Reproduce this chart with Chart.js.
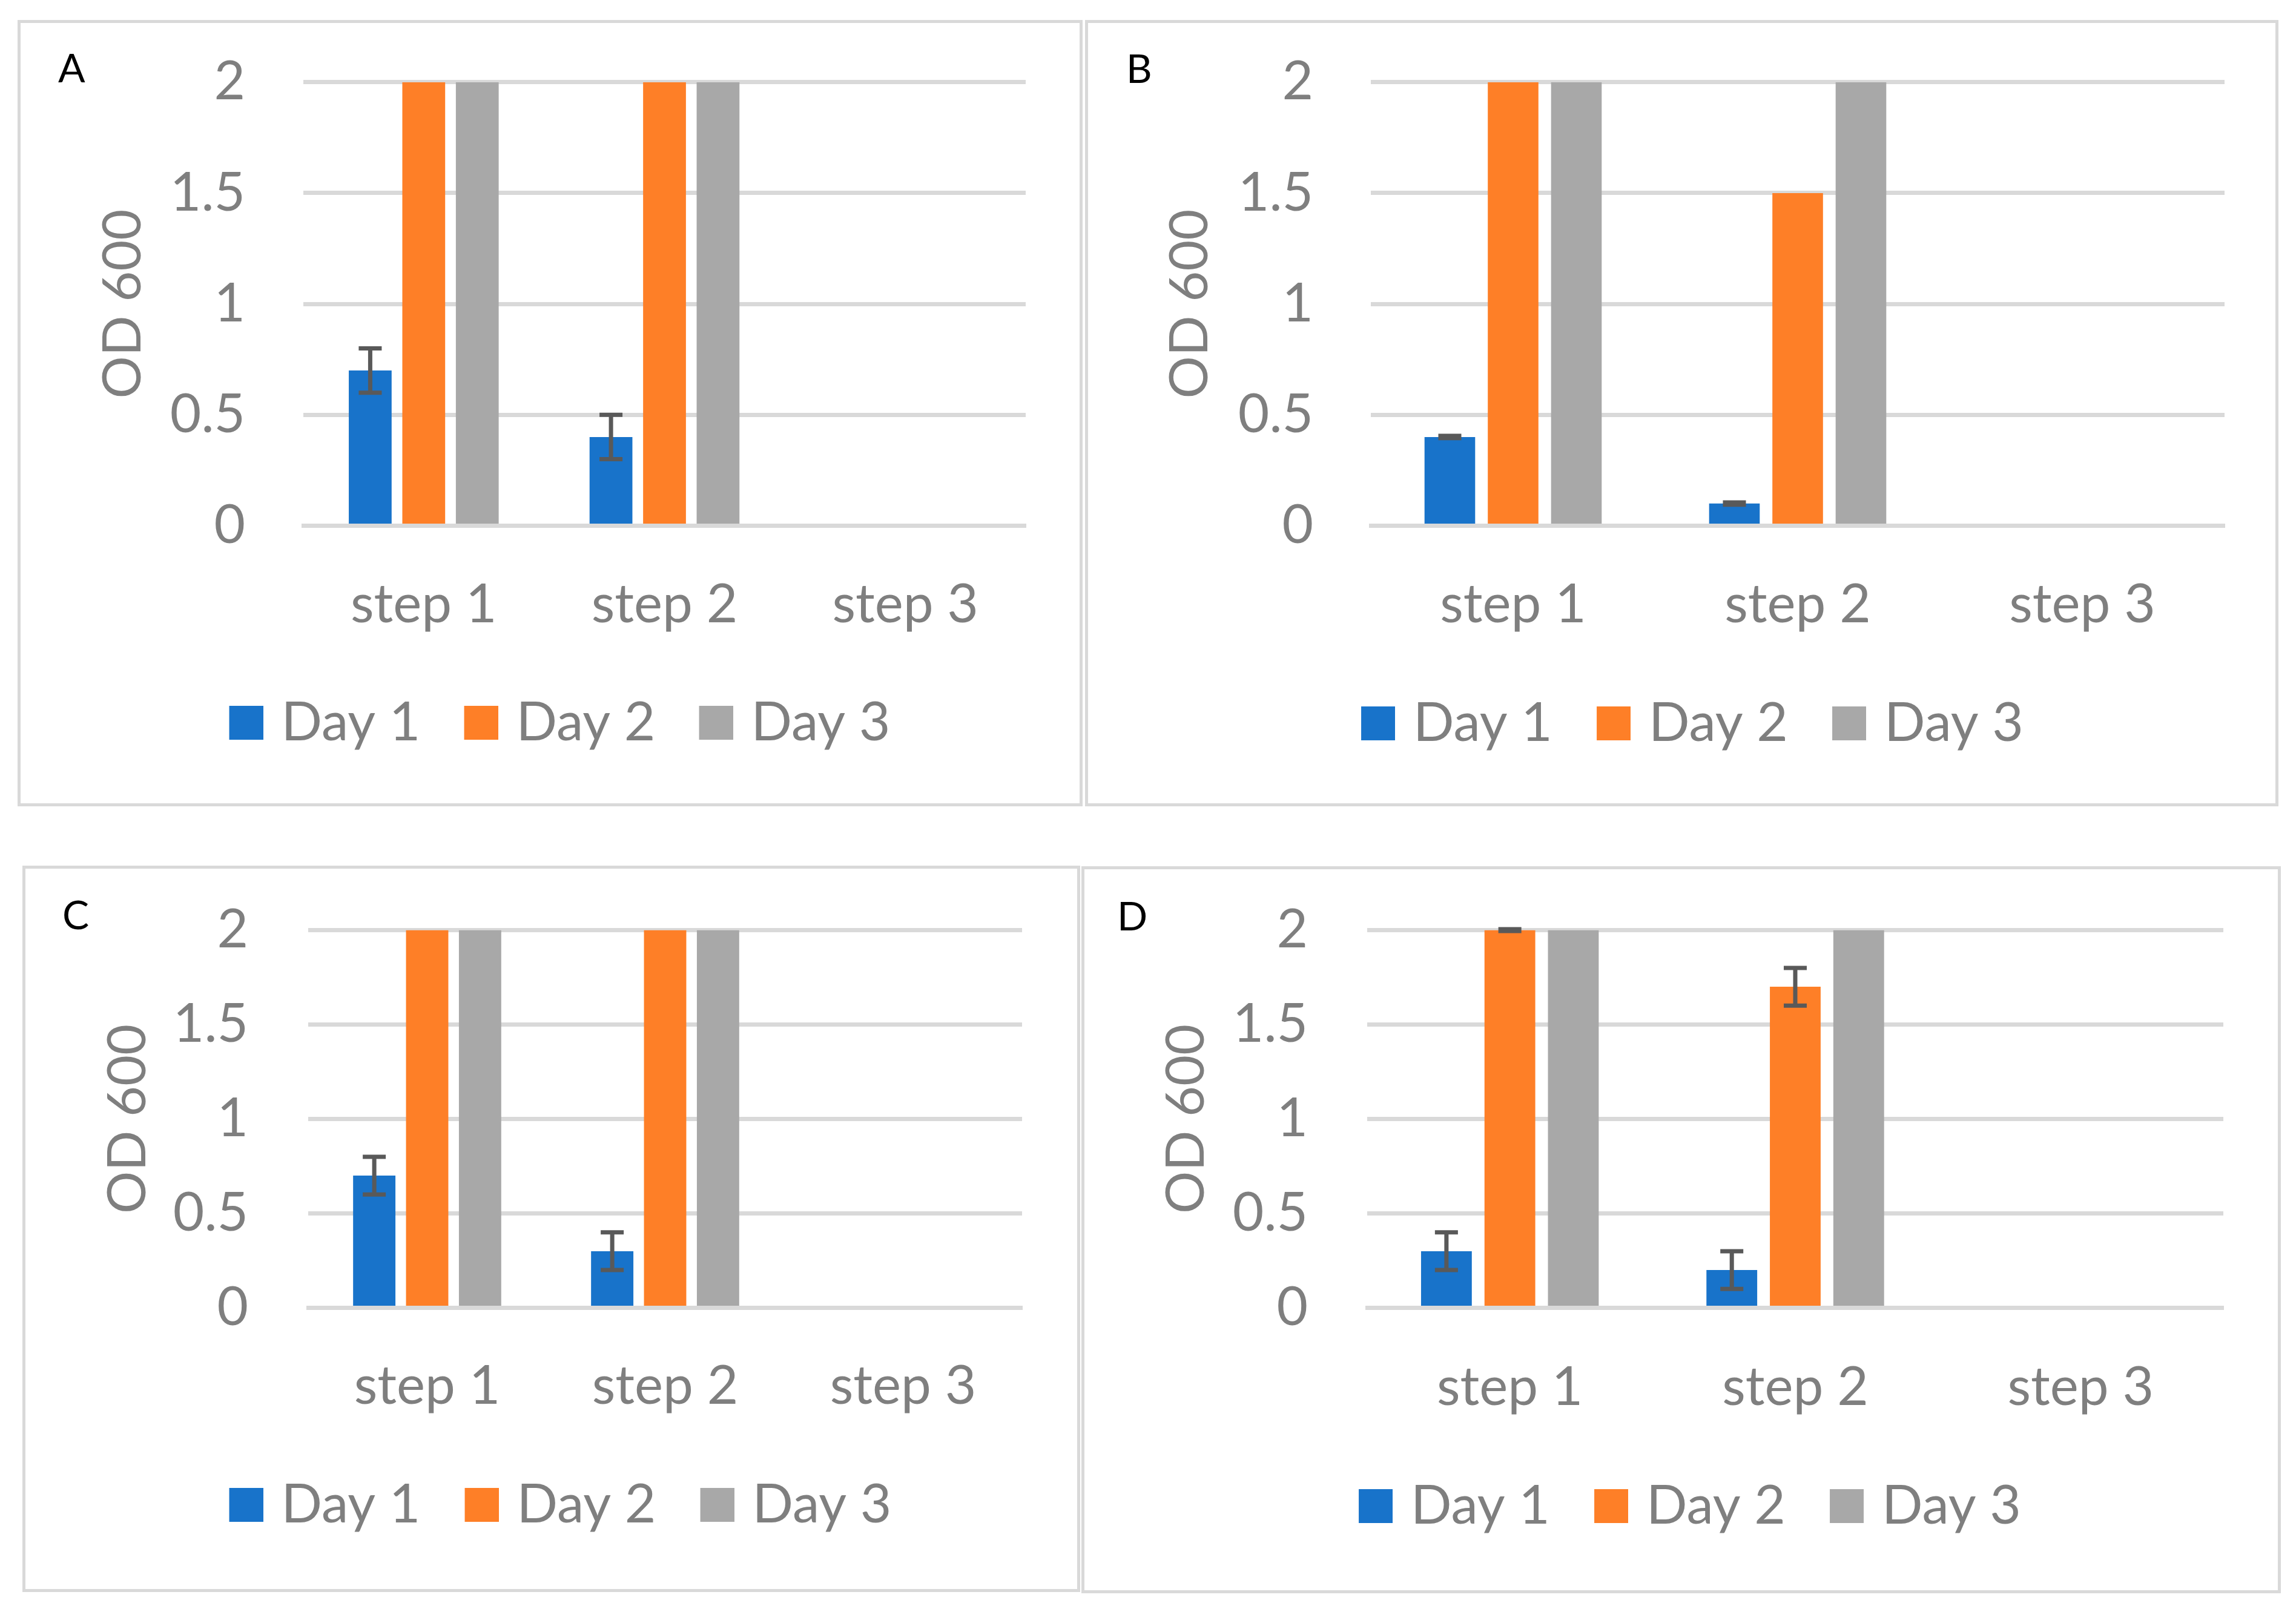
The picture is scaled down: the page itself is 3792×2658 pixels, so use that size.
<!DOCTYPE html>
<html>
<head>
<meta charset="utf-8">
<script src="https://cdn.jsdelivr.net/npm/chart.js@4.4.1/dist/chart.umd.min.js"></script>
<style>
  html, body { margin: 0; padding: 0; background: #ffffff; }
  body { width: 3792px; height: 2658px; position: relative; overflow: hidden; }
  .panel { position: absolute; box-sizing: border-box; border: 5px solid #d9d9d9; background: #ffffff; }
  .panel canvas { position: absolute; left: 0; top: 0; }
</style>
</head>
<body>
<script>
// ---------------- DATA ----------------
const categories   = ['step 1', 'step 2', 'step 3'];
const seriesNames  = ['Day 1', 'Day 2', 'Day 3'];
const yTicks       = [0, 0.5, 1, 1.5, 2];
const yTickLabels  = ['0', '0.5', '1', '1.5', '2'];
const yAxisTitle   = 'OD 600';
const panelLetters = ['A', 'B', 'C', 'D'];

// Panel A
const panelA_day1    = [0.7, 0.4, null];
const panelA_day1Err = [0.1, 0.1, null];
const panelA_day2    = [2, 2, null];
const panelA_day3    = [2, 2, null];
// Panel B
const panelB_day1    = [0.4, 0.1, null];
const panelB_day1Err = [0.005, 0.005, null];
const panelB_day2    = [2, 1.5, null];
const panelB_day3    = [2, 2, null];
// Panel C
const panelC_day1    = [0.7, 0.3, null];
const panelC_day1Err = [0.1, 0.1, null];
const panelC_day2    = [2, 2, null];
const panelC_day3    = [2, 2, null];
// Panel D
const panelD_day1    = [0.3, 0.2, null];
const panelD_day1Err = [0.1, 0.1, null];
const panelD_day2    = [2, 1.7, null];
const panelD_day2Err = [0.005, 0.1, null];
const panelD_day3    = [2, 2, null];

// ---------------- STYLE ----------------
const seriesColors = ['#1873ca', '#fe7f27', '#a8a8a8'];
const textColor = '#7f7f7f';
const gridColor = '#d9d9d9';
const errColor = '#595959';
const FONT_FAMILY = 'Lato, "Noto Sans", sans-serif';
const FS = 89;        // tick / legend font size
const TFS = 88;       // axis title font size
const LBOX = 56;      // legend box size
const LGAP = 30;      // gap between legend box and its text
const K_MID = 0.31;   // em-middle above baseline (fraction of font size)

// ---------------- LAYOUT (page pixels) ----------------
const layouts = [
  { box: [29, 33, 1788, 1332],   area: [501, 135.7, 1694, 868.5],   tickRight: 405,  titleX: 199.5, xLabelBase: 1027, legendCX: 924.5, legendBoxTop: 1166, legendStep: 388, letter: [96, 136] },
  { box: [1792, 33, 3763, 1332], area: [2264, 135.7, 3674, 868.5], tickRight: 2169, titleX: 1961,  xLabelBase: 1027, legendCX: 2795,  legendBoxTop: 1167, legendStep: 389, letter: [1860, 137] },
  { box: [37, 1430, 1784, 2630], area: [509, 1536.5, 1688, 2160.5], tickRight: 410,  titleX: 207,   xLabelBase: 2318, legendCX: 925.5, legendBoxTop: 2458, legendStep: 389, letter: [103, 1535] },
  { box: [1786, 1431, 3767, 2632], area: [2258, 1536.5, 3672, 2160.5], tickRight: 2160, titleX: 1955, xLabelBase: 2320, legendCX: 2791, legendBoxTop: 2460, legendStep: 389, letter: [1845, 1537] }
];

const panelSeries = [
  [ {data: panelA_day1, err: panelA_day1Err}, {data: panelA_day2, err: null}, {data: panelA_day3, err: null} ],
  [ {data: panelB_day1, err: panelB_day1Err}, {data: panelB_day2, err: null}, {data: panelB_day3, err: null} ],
  [ {data: panelC_day1, err: panelC_day1Err}, {data: panelC_day2, err: null}, {data: panelC_day3, err: null} ],
  [ {data: panelD_day1, err: panelD_day1Err}, {data: panelD_day2, err: panelD_day2Err}, {data: panelD_day3, err: null} ]
];

// ---------------- PLUGINS ----------------
const errorBarPlugin = {
  id: 'errorBars',
  afterDatasetsDraw(chart, args, opts) {
    const ctx = chart.ctx;
    const ys = chart.scales.y;
    chart.data.datasets.forEach((ds, di) => {
      if (!ds.errors) return;
      const meta = chart.getDatasetMeta(di);
      meta.data.forEach((bar, i) => {
        const v = ds.data[i], e = ds.errors[i];
        if (v == null || e == null) return;
        const x = bar.x;
        const yTop = ys.getPixelForValue(v + e);
        const yBot = ys.getPixelForValue(v - e);
        const half = opts.capWidth / 2;
        ctx.save();
        ctx.strokeStyle = opts.color;
        ctx.lineWidth = opts.lineWidth;
        ctx.lineCap = 'butt';
        ctx.beginPath();
        ctx.moveTo(x, yTop); ctx.lineTo(x, yBot);
        ctx.moveTo(x - half, yTop); ctx.lineTo(x + half, yTop);
        ctx.moveTo(x - half, yBot); ctx.lineTo(x + half, yBot);
        ctx.stroke();
        ctx.restore();
      });
    });
  }
};

const panelLetterPlugin = {
  id: 'panelLetter',
  afterDraw(chart, args, opts) {
    const ctx = chart.ctx;
    ctx.save();
    ctx.font = opts.size + 'px ' + FONT_FAMILY;
    ctx.fillStyle = '#000000';
    ctx.textAlign = 'left';
    ctx.textBaseline = 'alphabetic';
    ctx.fillText(opts.text, opts.x, opts.y);
    ctx.restore();
  }
};

// legend marker images: square placed so the gap to the text is LGAP
const SHIFT = FS / 2 - LGAP;
const legendMarkers = seriesColors.map((c) => {
  const cv = document.createElement('canvas');
  cv.width = Math.round(LBOX + 2 * SHIFT);
  cv.height = LBOX;
  const g = cv.getContext('2d');
  g.fillStyle = c;
  g.fillRect(cv.width - LBOX, 0, LBOX, LBOX);
  return cv;
});

// ---------------- BUILD ----------------
const measureCtx = document.createElement('canvas').getContext('2d');
function textWidth(str, size) {
  measureCtx.font = 'normal ' + size + 'px ' + FONT_FAMILY;
  return measureCtx.measureText(str).width;
}

function buildPanel(idx) {
  const lay = layouts[idx];
  const B = 5;
  const [x0, y0, x1, y1] = lay.box;
  const cl = x0 + B, ct = y0 + B, cw = x1 - x0 - 2 * B, ch = y1 - y0 - 2 * B;
  const [aL, aT, aR, aB] = lay.area;

  const padR = cl + cw - aR;
  const padL = Math.max(0, 2 * (lay.legendCX - SHIFT / 2 - (cl + cw / 2)) + padR);
  const yW = aL - cl - padL;
  const padT = aT - ct;

  const tw = textWidth(seriesNames[0], FS);
  const lp = lay.legendStep - LBOX - FS / 2 - tw;
  const legendTop = lay.legendBoxTop - lp - Math.max((FS - LBOX) / 2, 0);
  const legendH = Math.max(FS, LBOX) + lp + 10;
  const xH = legendTop - aB;
  const padB = ct + ch - legendTop - legendH;

  const xPad = lay.xLabelBase - K_MID * FS - aB - 0.6 * FS;
  const yPad = aL - lay.tickRight;
  const titlePadTop = (lay.titleX + (0.36 - K_MID) * TFS) - (cl + padL) - TFS / 2;

  const div = document.createElement('div');
  div.className = 'panel';
  div.style.left = x0 + 'px';
  div.style.top = y0 + 'px';
  div.style.width = (x1 - x0) + 'px';
  div.style.height = (y1 - y0) + 'px';
  const canvas = document.createElement('canvas');
  canvas.width = cw; canvas.height = ch;
  canvas.style.width = cw + 'px'; canvas.style.height = ch + 'px';
  div.appendChild(canvas);
  document.body.appendChild(div);

  const datasets = panelSeries[idx].map((s, si) => ({
    label: seriesNames[si],
    data: s.data,
    errors: s.err,
    backgroundColor: seriesColors[si],
    borderWidth: 0,
    categoryPercentage: 0.667,
    barPercentage: 0.8
  }));

  const font = { family: FONT_FAMILY, size: FS };

  new Chart(canvas, {
    type: 'bar',
    data: { labels: categories, datasets },
    options: {
      responsive: false,
      animation: false,
      layout: { padding: { left: padL, right: padR, top: padT, bottom: padB } },
      scales: {
        x: {
          type: 'category',
          offset: true,
          grid: { display: false, drawTicks: false },
          border: { display: true, color: gridColor, width: 7, z: 1 },
          ticks: { padding: xPad, font, color: textColor, maxRotation: 0, autoSkip: false },
          afterFit(s) { s.height = xH; s.paddingLeft = 0; s.paddingRight = 0; }
        },
        y: {
          min: yTicks[0],
          max: yTicks[yTicks.length - 1],
          ticks: {
            stepSize: yTicks[1] - yTicks[0],
            padding: yPad,
            font, color: textColor,
            callback: (v) => { const k = yTicks.indexOf(v); return k >= 0 ? yTickLabels[k] : ''; }
          },
          grid: { color: gridColor, lineWidth: 7, drawTicks: false },
          border: { display: false },
          title: {
            display: true,
            text: yAxisTitle,
            color: textColor,
            font: { family: FONT_FAMILY, size: TFS, lineHeight: 1 },
            padding: { top: titlePadTop, bottom: 0 }
          },
          afterFit(s) { s.width = yW; s.paddingTop = 0; s.paddingBottom = 0; }
        }
      },
      plugins: {
        legend: {
          position: 'bottom',
          labels: {
            boxWidth: LBOX, boxHeight: LBOX, padding: lp, color: textColor, font,
            usePointStyle: true, pointStyleWidth: LBOX,
            generateLabels(chart) {
              const items = Chart.defaults.plugins.legend.labels.generateLabels(chart);
              items.forEach((it, i) => { it.pointStyle = legendMarkers[i]; it.lineWidth = 0; });
              return items;
            }
          }
        },
        tooltip: { enabled: false },
        errorBars: { color: errColor, lineWidth: 7, capWidth: 38 },
        panelLetter: { text: panelLetters[idx], x: lay.letter[0] - cl, y: lay.letter[1] - ct, size: 66 }
      }
    },
    plugins: [errorBarPlugin, panelLetterPlugin]
  });
}

for (let i = 0; i < layouts.length; i++) buildPanel(i);
</script>
</body>
</html>
